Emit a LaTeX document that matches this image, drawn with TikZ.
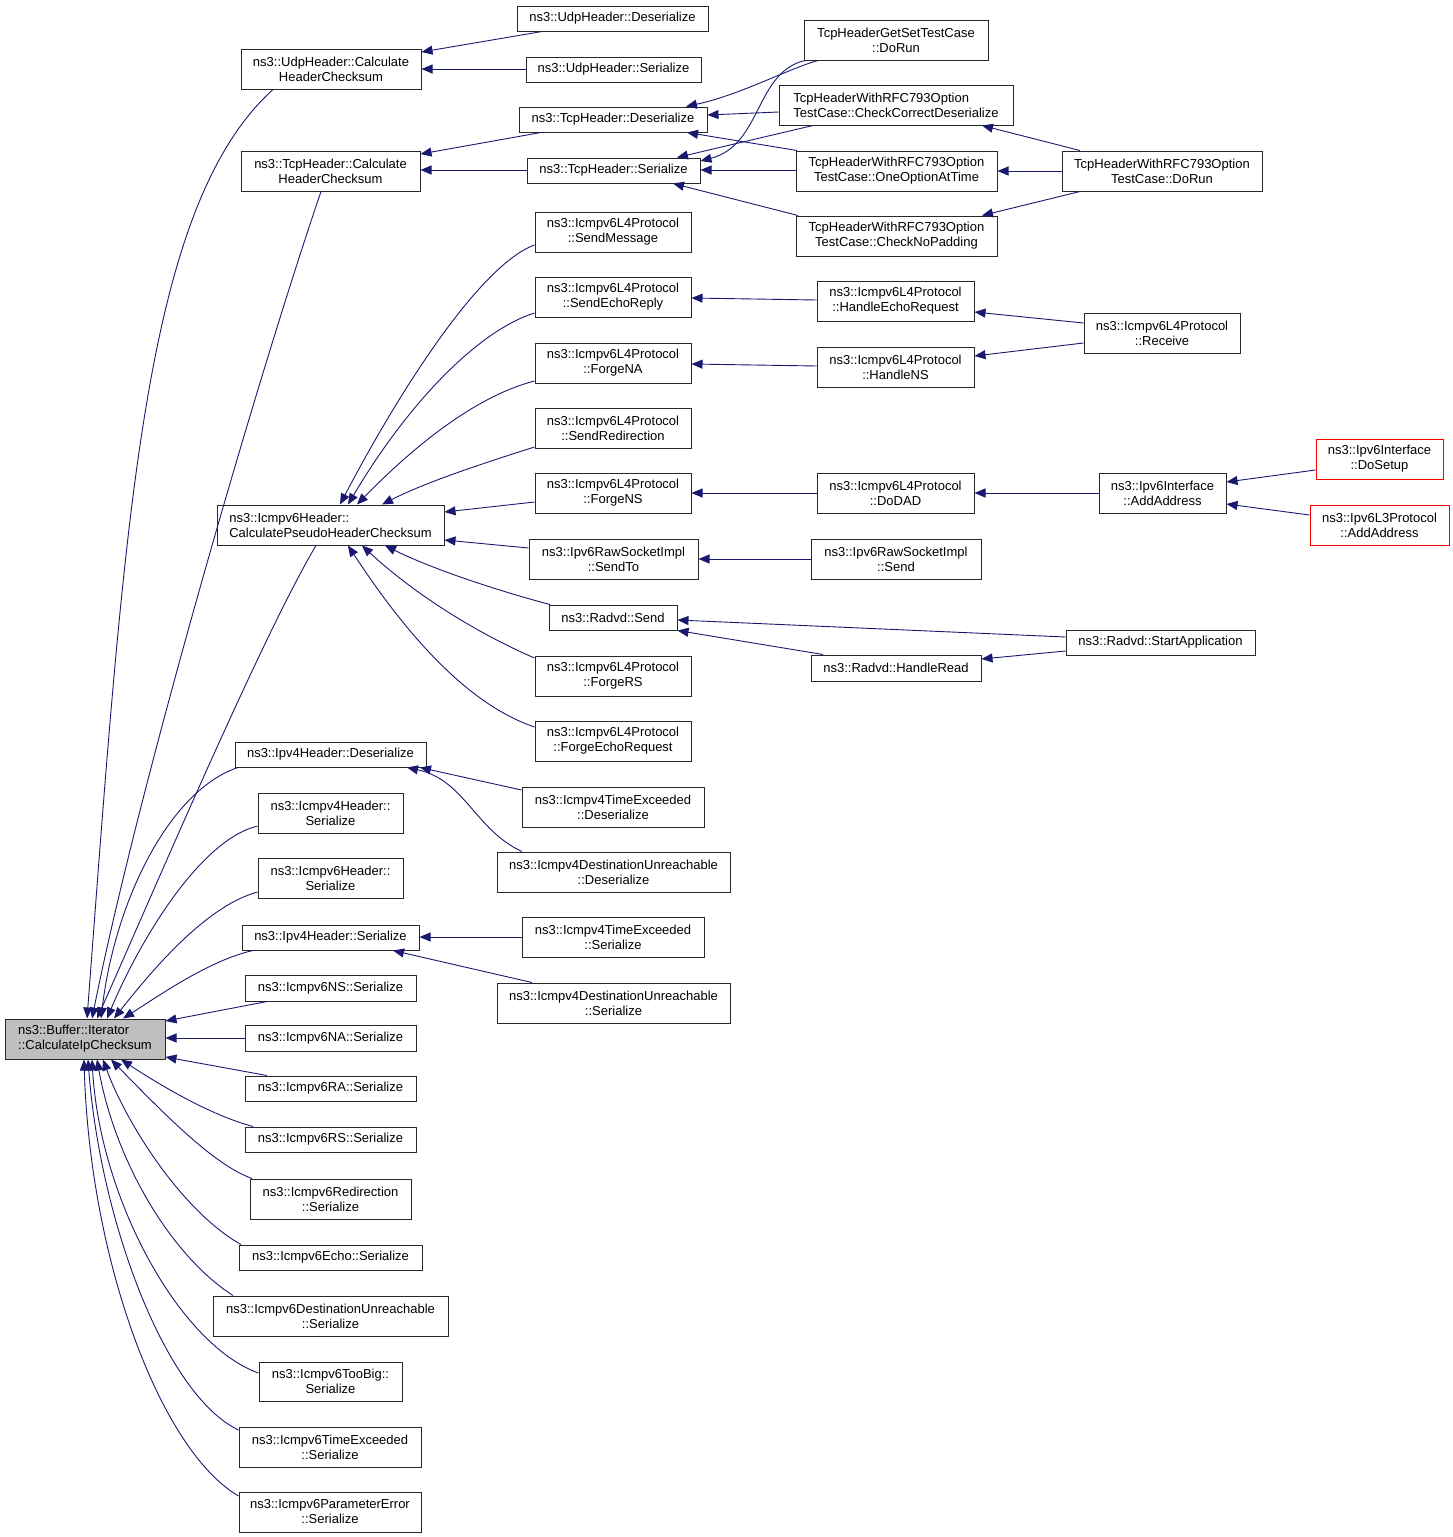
\documentclass[tikz,border=0pt]{standalone}
\usepackage{fontspec}
\setmainfont{Liberation Sans}
\usetikzlibrary{arrows.meta}
\definecolor{edgeblue}{RGB}{25,25,112}
\definecolor{nodegray}{RGB}{191,191,191}
\definecolor{boxline}{RGB}{40,40,40}
\newcommand\fs{\fontsize{13}{15}\selectfont}
\newcommand\bx[7][]{\node[box,#1,minimum width={(#5-#3)*1pt},minimum height={(#6-#4)*1pt}] (#2) at ({(#3+#5)/2},{(#4+#6)/2}) {#7};}
\tikzset{
  box/.style={draw=boxline, line width=1pt, fill=white, inner sep=0pt, font=\fs, align=center},
  lbox/.style={align=left},
  redbox/.style={draw=red},
  mainbox/.style={fill=nodegray, align=left},
  edge/.style={draw=edgeblue, line width=0.9pt, -{Triangle[length=11pt,width=9pt,fill=edgeblue]}},
}
\begin{document}
\begin{tikzpicture}[x=1pt,y=-1pt]
\fill[white] (0,0) rectangle (1453,1537);
\useasboundingbox (0,0) rectangle (1453,1537);
% ---------- nodes ----------
\bx[mainbox]{main}{5}{1019}{165}{1059}{ns3::Buffer::Iterator\\::CalculateIpChecksum}
\bx{udpcalc}{241}{49}{421}{89}{ns3::UdpHeader::Calculate\\HeaderChecksum}
\bx{udpdeser}{517}{6}{708}{31}{ns3::UdpHeader::Deserialize}
\bx{udpser}{526}{57}{701}{82}{ns3::UdpHeader::Serialize}
\bx{tcpcalc}{241}{151}{420}{191}{ns3::TcpHeader::Calculate\\HeaderChecksum}
\bx{tcpdeser}{519}{107}{707}{132}{ns3::TcpHeader::Deserialize}
\bx{tcpser}{527}{158}{700}{183}{ns3::TcpHeader::Serialize}
\bx{getset}{804}{20}{988}{60}{TcpHeaderGetSetTestCase\\::DoRun}
\bx[lbox]{checkcorrect}{779}{85}{1013}{125}{TcpHeaderWithRFC793Option\\TestCase::CheckCorrectDeserialize}
\bx{oneopt}{796}{151}{997}{191}{TcpHeaderWithRFC793Option\\TestCase::OneOptionAtTime}
\bx{rfcdorun}{1062}{151}{1262}{191}{TcpHeaderWithRFC793Option\\TestCase::DoRun}
\bx{nopad}{796}{216}{997}{256}{TcpHeaderWithRFC793Option\\TestCase::CheckNoPadding}
\bx{sendmsg}{535}{212}{691}{252}{ns3::Icmpv6L4Protocol\\::SendMessage}
\bx{sendecho}{535}{277}{691}{317}{ns3::Icmpv6L4Protocol\\::SendEchoReply}
\bx{forgena}{535}{343}{691}{383}{ns3::Icmpv6L4Protocol\\::ForgeNA}
\bx{sendredir}{535}{408}{691}{448}{ns3::Icmpv6L4Protocol\\::SendRedirection}
\bx{forgens}{535}{473}{691}{513}{ns3::Icmpv6L4Protocol\\::ForgeNS}
\bx{sendto}{529}{539}{698}{579}{ns3::Ipv6RawSocketImpl\\::SendTo}
\bx{radvdsend}{549}{605}{677}{630}{ns3::Radvd::Send}
\bx{forgers}{535}{656}{691}{696}{ns3::Icmpv6L4Protocol\\::ForgeRS}
\bx{forgeecho}{535}{721}{691}{761}{ns3::Icmpv6L4Protocol\\::ForgeEchoRequest}
\bx[lbox]{calcpseudo}{217}{505}{444}{545}{ns3::Icmpv6Header::\\CalculatePseudoHeaderChecksum}
\bx{handleecho}{817}{281}{974}{321}{ns3::Icmpv6L4Protocol\\::HandleEchoRequest}
\bx{handlens}{817}{347}{974}{387}{ns3::Icmpv6L4Protocol\\::HandleNS}
\bx{receive}{1084}{313}{1240}{353}{ns3::Icmpv6L4Protocol\\::Receive}
\bx{dodad}{817}{473}{974}{513}{ns3::Icmpv6L4Protocol\\::DoDAD}
\bx{addaddr}{1099}{473}{1226}{513}{ns3::Ipv6Interface\\::AddAddress}
\bx[redbox]{dosetup}{1316}{439}{1443}{479}{ns3::Ipv6Interface\\::DoSetup}
\bx[redbox]{l3addaddr}{1310}{505}{1449}{545}{ns3::Ipv6L3Protocol\\::AddAddress}
\bx{rawsend}{811}{539}{981}{579}{ns3::Ipv6RawSocketImpl\\::Send}
\bx{radvdstart}{1066}{630}{1255}{655}{ns3::Radvd::StartApplication}
\bx{handleread}{811}{655}{981}{681}{ns3::Radvd::HandleRead}
\bx{ipv4deser}{235}{742}{426}{767}{ns3::Ipv4Header::Deserialize}
\bx{vfteDeser}{522}{787}{704}{827}{ns3::Icmpv4TimeExceeded\\::Deserialize}
\bx{vfduDeser}{497}{852}{730}{892}{ns3::Icmpv4DestinationUnreachable\\::Deserialize}
\bx{vfhSer}{258}{793}{403}{833}{ns3::Icmpv4Header::\\Serialize}
\bx{vshSer}{258}{858}{403}{898}{ns3::Icmpv6Header::\\Serialize}
\bx{ipv4ser}{242}{925}{419}{950}{ns3::Ipv4Header::Serialize}
\bx{vfteSer}{522}{917}{704}{957}{ns3::Icmpv4TimeExceeded\\::Serialize}
\bx{vfduSer}{497}{983}{730}{1023}{ns3::Icmpv4DestinationUnreachable\\::Serialize}
\bx{nsSer}{245}{975}{416}{1001}{ns3::Icmpv6NS::Serialize}
\bx{naSer}{245}{1025}{416}{1051}{ns3::Icmpv6NA::Serialize}
\bx{raSer}{245}{1076}{416}{1101}{ns3::Icmpv6RA::Serialize}
\bx{rsSer}{245}{1127}{416}{1152}{ns3::Icmpv6RS::Serialize}
\bx{redirSer}{250}{1179}{411}{1219}{ns3::Icmpv6Redirection\\::Serialize}
\bx{echoSer}{239}{1245}{422}{1270}{ns3::Icmpv6Echo::Serialize}
\bx{vsduSer}{213}{1296}{448}{1336}{ns3::Icmpv6DestinationUnreachable\\::Serialize}
\bx{tooBig}{259}{1362}{402}{1401}{ns3::Icmpv6TooBig::\\Serialize}
\bx{vsteSer}{239}{1427}{421}{1467}{ns3::Icmpv6TimeExceeded\\::Serialize}
\bx{paramErr}{239}{1492}{421}{1532}{ns3::Icmpv6ParameterError\\::Serialize}
% ---------- edges into main ----------
\draw[edge] (273,0 |- udpcalc.south) .. controls (143,207) and (125,519) .. (87,0 |- main.north);
\draw[edge] (321,0 |- tcpcalc.south) .. controls (260,370) and (140,780) .. (92,0 |- main.north);
\draw[edge] (316,0 |- calcpseudo.south) .. controls (260,640) and (150,900) .. (97,0 |- main.north);
\draw[edge] (238,0 |- ipv4deser.south) .. controls (170,790) and (115,900) .. (101,0 |- main.north);
\draw[edge] (vfhSer.west |- 0,826) .. controls (200,840) and (140,940) .. (107,0 |- main.north);
\draw[edge] (vshSer.west |- 0,892) .. controls (210,905) and (160,960) .. (114,0 |- main.north);
\draw[edge] (253,0 |- ipv4ser.south) .. controls (210,960) and (160,995) .. (123,0 |- main.north);
\draw[edge] (267,0 |- nsSer.south) -- (main.east |- 0,1021);
\draw[edge] (naSer.west |- 0,1038) -- (main.east |- 0,1038);
\draw[edge] (267,0 |- raSer.north) -- (main.east |- 0,1057);
\draw[edge] (253,0 |- rsSer.north) .. controls (210,1115) and (160,1085) .. (121,0 |- main.south);
\draw[edge] (252,0 |- redirSer.north) .. controls (215,1165) and (170,1120) .. (111,0 |- main.south);
\draw[edge] (241,0 |- echoSer.north) .. controls (180,1210) and (125,1120) .. (103,0 |- main.south);
\draw[edge] (233,0 |- vsduSer.north) .. controls (170,1255) and (115,1160) .. (97,0 |- main.south);
\draw[edge] (tooBig.west |- 0,1373) .. controls (180,1345) and (100,1200) .. (92,0 |- main.south);
\draw[edge] (vsteSer.west |- 0,1430) .. controls (165,1395) and (100,1220) .. (88,0 |- main.south);
\draw[edge] (paramErr.west |- 0,1496) .. controls (160,1450) and (90,1260) .. (84,0 |- main.south);
% ---------- upper group ----------
\draw[edge] (542,0 |- udpdeser.south) -- (udpcalc.east |- 0,52);
\draw[edge] (udpser.west |- 0,69) -- (udpcalc.east |- 0,69);
\draw[edge] (541,0 |- tcpdeser.south) -- (tcpcalc.east |- 0,154);
\draw[edge] (tcpser.west |- 0,170) -- (tcpcalc.east |- 0,170);
\draw[edge] (818,0 |- getset.south) .. controls (790,68) and (740,95) .. (686,0 |- tcpdeser.north);
\draw[edge] (checkcorrect.west |- 0,112) -- (tcpdeser.east |- 0,115);
\draw[edge] (797,0 |- oneopt.north) -- (687,0 |- tcpdeser.south);
\draw[edge] (813,0 |- checkcorrect.south) -- (677,0 |- tcpser.north);
\draw[edge] (805,0 |- getset.south) .. controls (755,72) and (762,145) .. (tcpser.east |- 0,161);
\draw[edge] (oneopt.west |- 0,170) -- (tcpser.east |- 0,170);
\draw[edge] (798,0 |- nopad.north) -- (673,0 |- tcpser.south);
\draw[edge] (1080,0 |- rfcdorun.north) -- (982,0 |- checkcorrect.south);
\draw[edge] (rfcdorun.west |- 0,171) -- (oneopt.east |- 0,171);
\draw[edge] (1080,0 |- rfcdorun.south) -- (982,0 |- nopad.north);
% ---------- pseudo header group ----------
\draw[edge] (sendmsg.west |- 0,245) .. controls (480,265) and (400,390) .. (340,0 |- calcpseudo.north);
\draw[edge] (sendecho.west |- 0,313) .. controls (480,330) and (410,400) .. (348,0 |- calcpseudo.north);
\draw[edge] (forgena.west |- 0,381) .. controls (480,395) and (420,440) .. (357,0 |- calcpseudo.north);
\draw[edge] (sendredir.west |- 0,447) .. controls (500,458) and (430,480) .. (382,0 |- calcpseudo.north);
\draw[edge] (forgens.west |- 0,502) -- (calcpseudo.east |- 0,512);
\draw[edge] (sendto.west |- 0,548) -- (calcpseudo.east |- 0,540);
\draw[edge] (550,0 |- radvdsend.north) .. controls (495,590) and (430,568) .. (385,0 |- calcpseudo.south);
\draw[edge] (forgers.west |- 0,658) .. controls (470,630) and (410,590) .. (362,0 |- calcpseudo.south);
\draw[edge] (forgeecho.west |- 0,727) .. controls (470,705) and (410,640) .. (348,0 |- calcpseudo.south);
% ---------- second level ----------
\draw[edge] (handleecho.west |- 0,300) -- (sendecho.east |- 0,298);
\draw[edge] (handlens.west |- 0,366) -- (forgena.east |- 0,364);
\draw[edge] (receive.west |- 0,323) -- (handleecho.east |- 0,312);
\draw[edge] (receive.west |- 0,343) -- (handlens.east |- 0,356);
\draw[edge] (dodad.west) -- (forgens.east);
\draw[edge] (addaddr.west) -- (dodad.east);
\draw[edge] (dosetup.west |- 0,470) -- (addaddr.east |- 0,482);
\draw[edge] (l3addaddr.west |- 0,515) -- (addaddr.east |- 0,504);
\draw[edge] (rawsend.west) -- (sendto.east);
\draw[edge] (radvdstart.west |- 0,637) -- (radvdsend.east |- 0,620);
\draw[edge] (radvdstart.west |- 0,651) -- (handleread.east |- 0,659);
\draw[edge] (823,0 |- handleread.north) -- (radvdsend.south east);
% ---------- ipv4 group ----------
\draw[edge] (vfteDeser.west |- 0,790) -- (420,0 |- ipv4deser.south);
\draw[edge] (522,0 |- vfduDeser.north) .. controls (475,830) and (465,780) .. (407,0 |- ipv4deser.south);
\draw[edge] (vfteSer.west |- 0,937) -- (ipv4ser.east |- 0,937);
\draw[edge] (532,0 |- vfduSer.north) -- (393,0 |- ipv4ser.south);
\end{tikzpicture}
\end{document}
